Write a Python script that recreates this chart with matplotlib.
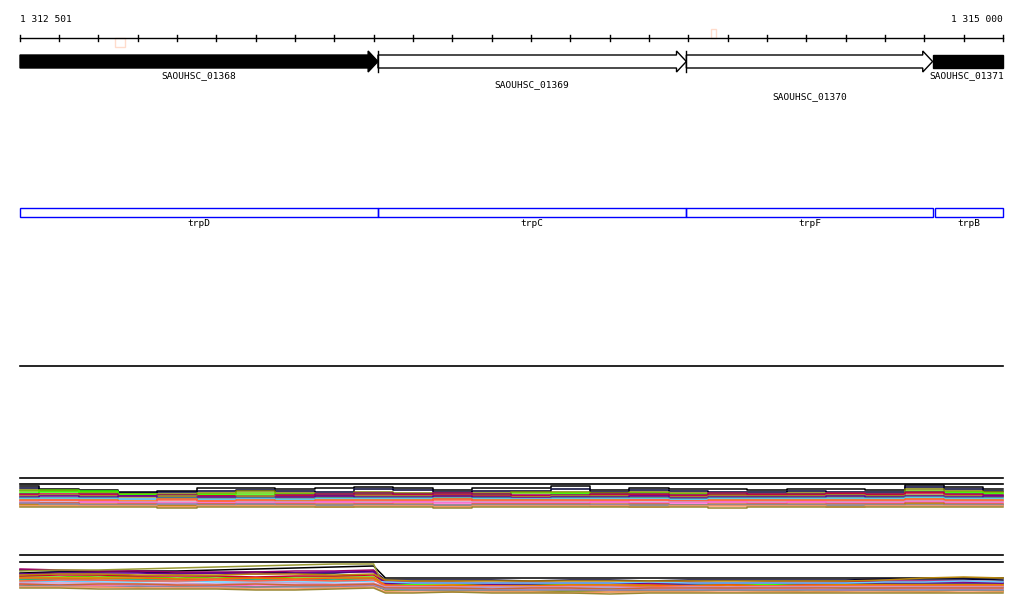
import numpy as np
import matplotlib
matplotlib.use("Agg")
import matplotlib.pyplot as plt
from matplotlib.patches import Polygon, Rectangle

# ---- data ----
view_start = 1312501
view_end = 1315000

gene_names = ["SAOUHSC_01368", "SAOUHSC_01369", "SAOUHSC_01370", "SAOUHSC_01371"]
gene_start = [1312501, 1313411, 1314195, 1314821]
gene_end = [1313411, 1314195, 1314821, 1315060]
gene_fill = ["black", "white", "white", "black"]

feat_names = ["trpD", "trpC", "trpF", "trpB"]
feat_start = [1312501, 1313411, 1314195, 1314826]
feat_end = [1313411, 1314195, 1314821, 1315000]

mark_pos = [1312743, 1314258]
mark_len = [25, 13]

colors = ["black", "#000033", "#808000", "#66cc00", "#33ff00", "#990066",
          "#cc0033", "#999933", "#660099", "#339999", "#66ccff", "#ff6600",
          "#ff6347", "#cc99cc", "#ff66cc", "#cc6633", "#b8860b", "#8888aa",
          "#ff9966", "#998833"]

# coverage track 1, every 100 bp
pos1 = [1312501] + list(range(1312600, 1315001, 100))
cov1 = [
    [22, 19, 18, 16, 17, 20, 20, 19, 20, 21, 20, 18, 20, 20, 22, 18, 20, 19, 19, 18, 19, 19, 18, 23, 21, 19],
    [20, 18, 17, 15, 16, 17, 18, 17, 16, 19, 18, 16, 17, 17, 19, 16, 18, 17, 16, 16, 17, 16, 16, 21, 19, 17],
    [18, 17, 16, 14, 14, 15, 17, 15, 14, 16, 15, 15, 15, 16, 16, 15, 16, 15, 15, 14, 15, 15, 14, 19, 17, 16],
    [17, 18, 15, 14, 13, 14, 15, 14, 13, 15, 14, 13, 14, 15, 15, 14, 15, 14, 14, 13, 14, 14, 13, 17, 16, 15],
    [15, 16, 17, 13, 12, 13, 13, 12, 12, 14, 13, 12, 13, 12, 14, 12, 13, 12, 13, 12, 13, 12, 12, 16, 15, 14],
    [14, 13, 14, 12, 13, 12, 12, 13, 14, 15, 14, 15, 14, 13, 13, 14, 14, 13, 15, 14, 14, 15, 14, 16, 14, 13],
    [13, 14, 13, 12, 11, 12, 11, 12, 12, 13, 13, 13, 12, 12, 12, 13, 13, 12, 13, 13, 13, 14, 13, 15, 13, 12],
    [12, 13, 12, 11, 12, 11, 12, 11, 11, 12, 12, 12, 11, 11, 12, 12, 11, 11, 12, 12, 12, 13, 12, 13, 12, 11],
    [11, 12, 11, 12, 10, 11, 10, 11, 12, 11, 11, 12, 11, 10, 11, 11, 12, 10, 11, 11, 11, 12, 11, 12, 11, 12],
    [10, 10, 10, 9, 10, 9, 10, 9, 10, 10, 10, 10, 10, 9, 10, 10, 10, 9, 10, 10, 10, 10, 10, 11, 10, 10],
    [9, 9, 9, 9, 9, 8, 9, 8, 9, 9, 9, 9, 9, 9, 9, 9, 9, 8, 9, 9, 9, 9, 9, 10, 9, 9],
    [8, 8, 8, 7, 9, 7, 8, 7, 8, 8, 8, 9, 8, 8, 8, 8, 8, 7, 8, 8, 8, 8, 8, 9, 8, 8],
    [7, 8, 7, 6, 8, 7, 7, 6, 7, 7, 7, 8, 7, 7, 7, 7, 8, 7, 7, 7, 7, 7, 7, 8, 7, 7],
    [6, 6, 6, 6, 6, 5, 6, 6, 6, 6, 6, 6, 6, 6, 6, 6, 6, 6, 6, 6, 6, 6, 6, 7, 6, 6],
    [5, 5, 6, 5, 5, 5, 5, 5, 6, 5, 6, 5, 5, 5, 5, 6, 5, 5, 6, 5, 6, 5, 5, 6, 5, 5],
    [4, 5, 4, 4, 3, 4, 4, 4, 4, 4, 4, 3, 4, 4, 4, 4, 4, 3, 4, 4, 4, 4, 4, 5, 4, 4],
    [3, 3, 3, 3, 2, 3, 3, 3, 3, 3, 3, 2, 3, 3, 3, 2, 3, 3, 3, 3, 3, 2, 3, 4, 3, 3],
    [5, 4, 3, 3, 4, 3, 4, 3, 3, 3, 3, 3, 3, 3, 3, 3, 3, 3, 3, 3, 3, 3, 3, 3, 3, 3],
    [2, 2, 2, 2, 1, 2, 2, 2, 1, 2, 2, 1, 2, 2, 2, 2, 1, 2, 2, 2, 2, 1, 2, 2, 2, 2],
    [1, 1, 1, 1, 0, 1, 1, 1, 1, 1, 1, 0, 1, 1, 1, 1, 1, 1, 0, 1, 1, 1, 1, 1, 1, 1],
]

# coverage track 2 (drop at end of SAOUHSC_01368)
pos2 = [1312501] + list(range(1312600, 1313401, 100)) + [1313430] + list(range(1313500, 1315001, 100))
cov2 = [
    [22, 23, 23, 24, 24, 25, 26, 27, 28, 29] + [17, 17, 17, 17, 17, 17, 17, 17, 17, 17, 17, 17, 17, 17, 17, 17, 17],
    [25, 24, 24, 23, 22, 22, 23, 22, 22, 24] + [15, 15, 15, 15, 14, 15, 15, 14, 15, 15, 15, 15, 15, 16, 16, 16, 15],
    [10, 9, 9, 8, 9, 9, 8, 9, 9, 10] + [5, 5, 4, 5, 3, 4, 5, 4, 4, 5, 4, 3, 4, 5, 3, 5, 4],
    [18, 18, 19, 18, 17, 18, 17, 18, 18, 18] + [10, 10, 9, 10, 10, 10, 9, 10, 9, 10, 10, 10, 10, 11, 10, 10, 10],
    [15, 16, 17, 16, 16, 15, 16, 16, 15, 17] + [11, 11, 11, 10, 11, 11, 10, 10, 11, 11, 11, 10, 11, 11, 11, 11, 11],
    [26, 25, 24, 24, 23, 23, 23, 24, 24, 25] + [13, 13, 13, 12, 13, 12, 12, 13, 13, 12, 13, 13, 13, 14, 14, 14, 13],
    [19, 20, 20, 19, 19, 19, 18, 19, 19, 20] + [12, 12, 12, 11, 12, 12, 12, 12, 12, 11, 12, 12, 13, 13, 13, 13, 12],
    [24, 25, 25, 26, 27, 28, 29, 30, 31, 31] + [4, 5, 5, 4, 4, 4, 3, 4, 4, 5, 4, 5, 5, 4, 4, 5, 4],
    [21, 22, 22, 22, 21, 22, 21, 22, 23, 23] + [11, 12, 12, 11, 11, 12, 12, 11, 11, 12, 12, 11, 12, 12, 12, 12, 12],
    [16, 16, 15, 15, 15, 16, 15, 15, 16, 16] + [8, 8, 7, 8, 8, 7, 7, 8, 8, 7, 8, 8, 7, 7, 8, 8, 8],
    [13, 14, 13, 13, 14, 13, 13, 13, 13, 14] + [13, 12, 12, 12, 12, 12, 12, 13, 12, 12, 12, 12, 12, 13, 13, 14, 13],
    [17, 17, 17, 17, 16, 16, 17, 16, 17, 17] + [10, 9, 10, 9, 9, 10, 10, 10, 9, 10, 9, 10, 10, 10, 10, 10, 10],
    [14, 15, 15, 14, 14, 15, 14, 15, 14, 15] + [9, 9, 8, 9, 8, 9, 9, 8, 9, 8, 9, 9, 9, 9, 9, 9, 9],
    [12, 12, 12, 11, 12, 11, 12, 12, 11, 12] + [8, 8, 8, 8, 8, 8, 8, 7, 8, 8, 8, 8, 8, 8, 8, 8, 8],
    [11, 10, 10, 10, 10, 9, 10, 10, 10, 10] + [6, 6, 6, 6, 6, 6, 5, 6, 6, 6, 6, 6, 5, 6, 6, 6, 6],
    [11, 10, 11, 11, 10, 10, 11, 10, 10, 11] + [7, 7, 7, 6, 7, 7, 6, 7, 7, 7, 7, 7, 7, 7, 7, 7, 7],
    [20, 21, 21, 20, 20, 20, 21, 21, 20, 21] + [15, 14, 14, 14, 14, 14, 14, 14, 14, 14, 14, 14, 14, 15, 17, 18, 17],
    [9, 9, 8, 9, 8, 8, 8, 8, 8, 9] + [6, 5, 5, 5, 5, 5, 5, 5, 5, 5, 5, 5, 5, 5, 5, 5, 5],
    [8, 8, 8, 7, 7, 7, 6, 6, 7, 8] + [3, 3, 3, 3, 3, 2, 3, 3, 3, 3, 3, 3, 3, 3, 3, 3, 3],
    [7, 7, 6, 6, 6, 6, 5, 5, 6, 7] + [2, 2, 3, 2, 2, 2, 1, 2, 2, 2, 2, 2, 2, 2, 2, 2, 2],
]

# ---- layout (pixel rows) ----
W, H = 1024, 611
left_px, right_px = 20, 1003
bp_per_px = (view_end - view_start) / (right_px - left_px)
x0 = view_start - left_px * bp_per_px
x1 = x0 + W * bp_per_px

fig = plt.figure(figsize=(W / 100, H / 100), dpi=100)
ax = fig.add_axes([0, 0, 1, 1])
ax.set_xlim(x0, x1)
ax.set_ylim(H, 0)
ax.axis("off")

font = dict(family="DejaVu Sans Mono", fontsize=6.8)

# ruler
ruler_y = 38
ax.plot([view_start, view_end], [ruler_y, ruler_y], color="black", lw=1)
for t in range(1312500, view_end + 1, 100):
    ax.plot([t, t], [ruler_y - 3, ruler_y + 3], color="black", lw=1)
ax.text(view_start, 19, "1 312 501", ha="left", va="center", **font)
ax.text(view_end, 19, "1 315 000", ha="right", va="center", **font)

for p, l, yy in zip(mark_pos, mark_len, [38, 29]):
    ax.add_patch(Rectangle((p, yy), l, 9, fill=False, edgecolor="#ffdccc", lw=1))

# genes
body_top, body_bot = 55, 68
head_top, head_bot = 51, 72
head_len = 25
label_y = [76, 85, 97, 76]
for i in range(len(gene_names)):
    s, e = gene_start[i], gene_end[i]
    if e > view_end:
        e = view_end
        pts = [(s, body_top), (e, body_top), (e, body_bot), (s, body_bot)]
    else:
        hs = e - head_len
        pts = [(s, body_top), (hs, body_top), (hs, head_top), (e, (body_top + body_bot) / 2),
               (hs, head_bot), (hs, body_bot), (s, body_bot)]
    ax.add_patch(Polygon(pts, closed=True, facecolor=gene_fill[i], edgecolor="black", lw=1,
                         zorder=2 if gene_fill[i] == "black" else 3))
    if gene_fill[i] == "white":
        ax.plot([s, s], [head_top, head_bot], color="black", lw=1, zorder=3)
    cx = (s + e) / 2
    if i == 3:
        ax.text(view_end + 3, label_y[i], gene_names[i], ha="right", va="center", zorder=4, **font)
    else:
        ax.text(cx, label_y[i], gene_names[i], ha="center", va="center", **font)

# features
for n, s, e in zip(feat_names, feat_start, feat_end):
    ax.add_patch(Rectangle((s, 208), e - s, 9, fill=False, edgecolor="#0000ff", lw=1))
    ax.text((s + e) / 2, 224, n, ha="center", va="center", **font)

# separators
for yy in [366, 478, 484, 555, 562]:
    ax.plot([view_start, view_end], [yy, yy], color="black", lw=1.2)

# coverage tracks
base1, base2 = 508, 595
for vals, c in zip(cov1, colors):
    ax.plot(pos1, base1 - np.array(vals), color=c, lw=1.1, drawstyle="steps-mid")
for vals, c in zip(cov2, colors):
    ax.plot(pos2, base2 - np.array(vals), color=c, lw=1.1)

fig.savefig("out.png", dpi=100)
